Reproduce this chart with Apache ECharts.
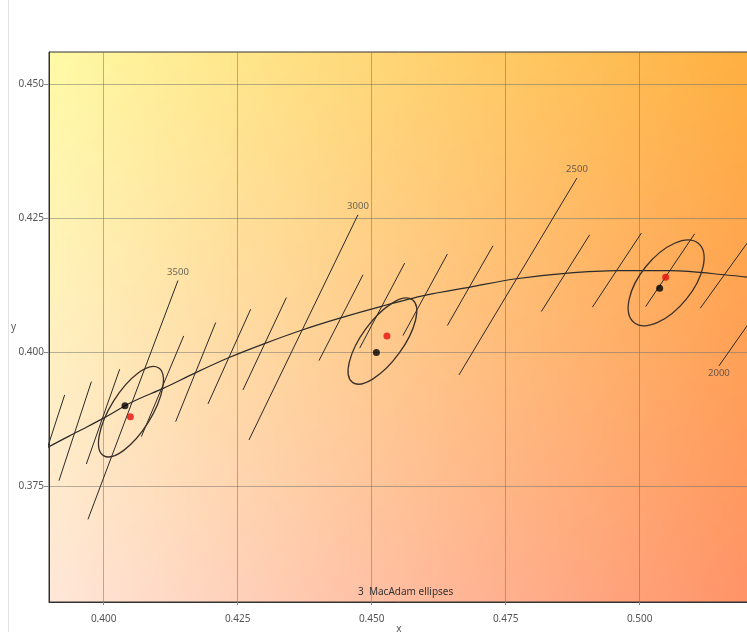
<!DOCTYPE html>
<html>
<head>
<meta charset="utf-8">
<title>3 MacAdam ellipses</title>
<script src="https://cdn.jsdelivr.net/npm/echarts@6/dist/echarts.min.js"></script>
<style>
  html, body { margin: 0; padding: 0; background: #fff; }
  #chart { width: 747px; height: 632px; }
</style>
</head>
<body>
<div id="chart"></div>
<script>
// axis ticks
const xTicks = [0.400, 0.425, 0.450, 0.475, 0.500]
const yTicks = [0.375, 0.400, 0.425, 0.450]
const xMin = 0.3898, xMax = 0.5204
const yMin = 0.3534, yMax = 0.4560

// planckian locus
const locusX = [0.3805, 0.3897, 0.3950, 0.4000, 0.4053, 0.4112, 0.4170, 0.4234, 0.4300, 0.4369,
  0.4442, 0.4520, 0.4599, 0.4686, 0.4770, 0.4861, 0.4959, 0.5059, 0.5162, 0.5267]
const locusY = [0.3768, 0.3823, 0.3851, 0.3877, 0.3907, 0.3933, 0.3961, 0.3990, 0.4016, 0.4041,
  0.4064, 0.4086, 0.4106, 0.4122, 0.4137, 0.4147, 0.4152, 0.4152, 0.4144, 0.4133]

// iso-temperature lines [x1, y1, x2, y2]
const isoLines = [
  [0.38713, 0.37485, 0.39272, 0.39203],
  [0.39166, 0.37603, 0.39771, 0.39451],
  [0.39677, 0.37914, 0.40299, 0.39683],
  [0.39707, 0.36882, 0.41386, 0.41337],
  [0.40703, 0.38424, 0.41493, 0.40304],
  [0.41343, 0.38704, 0.42090, 0.40553],
  [0.41946, 0.39035, 0.42743, 0.40803],
  [0.42599, 0.39296, 0.43409, 0.41019],
  [0.42711, 0.38363, 0.44744, 0.42563],
  [0.44017, 0.39843, 0.44838, 0.41443],
  [0.44776, 0.40075, 0.45616, 0.41662],
  [0.45584, 0.40310, 0.46412, 0.41830],
  [0.46412, 0.40497, 0.47263, 0.41985],
  [0.46629, 0.39576, 0.48830, 0.43249],
  [0.48166, 0.40758, 0.49067, 0.42190],
  [0.49118, 0.40840, 0.50032, 0.42222],
  [0.50112, 0.40851, 0.51026, 0.42209],
  [0.51132, 0.40822, 0.52090, 0.42153],
  [0.51479, 0.39744, 0.52985, 0.41891]
]
const isoNames = ['', '', '', '3500', '', '', '', '', '3000', '', '', '', '', '2500', '', '', '', '', '2000']

// MacAdam ellipses: centre, semi-axes, angle in degrees
const ellipseCx = [0.40509, 0.45201, 0.50494]
const ellipseCy = [0.38891, 0.40207, 0.41294]
const ellipseA = [0.00967, 0.00952, 0.00952]
const ellipseB = [0.00380, 0.00385, 0.00485]
const ellipseAngle = [58, 54, 51]

const blackPoints = [[0.40397, 0.39003], [0.45088, 0.39993], [0.50373, 0.41195]]
const redPoints = [[0.40498, 0.38798], [0.45285, 0.40304], [0.50485, 0.41400]]

const titleText = '3  MacAdam ellipses'

// background fill of the plot area (corner colours blended)
const makeBackground = () => {
  const w = 64, h = 64
  const c = document.createElement('canvas')
  c.width = w
  c.height = h
  const ctx = c.getContext('2d')
  const img = ctx.createImageData(w, h)
  const tl = [255, 250, 166], tr = [255, 176, 66], bl = [255, 231, 216], br = [255, 148, 104]
  for (let y = 0; y < h; y++) {
    for (let x = 0; x < w; x++) {
      const u = x / (w - 1), v = y / (h - 1)
      const k = (y * w + x) * 4
      for (let ch = 0; ch < 3; ch++) {
        const top = tl[ch] + (tr[ch] - tl[ch]) * u
        const bot = bl[ch] + (br[ch] - bl[ch]) * u
        img.data[k + ch] = Math.round(top + (bot - top) * v)
      }
      img.data[k + 3] = 255
    }
  }
  ctx.putImageData(img, 0, 0)
  return c
}

const buildOption = () => {
  const series = []

  series.push({
    name: 'locus',
    type: 'line',
    data: locusX.map((x, i) => [x, locusY[i]]),
    smooth: 0.3,
    symbol: 'none',
    lineStyle: { color: '#2a2a2a', width: 1.2 },
    silent: true,
    z: 3
  })

  isoLines.forEach((seg, i) => {
    series.push({
      name: 'iso' + i,
      type: 'line',
      data: [[seg[0], seg[1]], [seg[2], seg[3]]],
      symbol: 'none',
      lineStyle: { color: '#2a2a2a', width: 1 },
      silent: true,
      z: 3
    })
  })

  const labelData = []
  isoLines.forEach((seg, i) => {
    if (!isoNames[i]) return
    const topInside = seg[2] <= xMax
    labelData.push({
      value: topInside ? [seg[2], seg[3], isoNames[i]] : [seg[0], seg[1], isoNames[i]],
      label: { position: topInside ? 'top' : 'bottom', distance: topInside ? 3 : 2 }
    })
  })
  series.push({
    name: 'labels',
    type: 'scatter',
    data: labelData,
    symbolSize: 1,
    itemStyle: { color: 'rgba(0,0,0,0)' },
    label: {
      show: true,
      formatter: p => p.value[2],
      color: '#444',
      fontSize: 9.5,
      fontFamily: 'Noto Sans'
    },
    silent: true,
    z: 4
  })

  series.push({
    name: 'ellipses',
    type: 'custom',
    data: ellipseCx.map((cx, i) => [cx, ellipseCy[i], ellipseA[i], ellipseB[i], ellipseAngle[i]]),
    renderItem: (params, api) => {
      const c = api.coord([api.value(0), api.value(1)])
      const s = api.size([api.value(2), api.value(3)])
      return {
        type: 'ellipse',
        x: c[0],
        y: c[1],
        rotation: api.value(4) * Math.PI / 180,
        shape: { cx: 0, cy: 0, rx: s[0], ry: s[1] },
        style: { fill: 'none', stroke: '#3b3029', lineWidth: 1.3 }
      }
    },
    silent: true,
    z: 4
  })

  series.push({
    name: 'black',
    type: 'scatter',
    data: blackPoints,
    symbolSize: 7,
    itemStyle: { color: '#000' },
    z: 5
  })
  series.push({
    name: 'red',
    type: 'scatter',
    data: redPoints,
    symbolSize: 7,
    itemStyle: { color: '#e31010' },
    z: 5
  })

  const axisText = { color: '#555', fontSize: 10, fontFamily: 'Noto Sans' }

  return {
    backgroundColor: '#fff',
    animation: false,
    title: {
      text: titleText,
      left: 353,
      top: 582,
      textStyle: { color: '#333', fontSize: 10, fontWeight: 'normal', fontFamily: 'Noto Sans' }
    },
    graphic: [
      { type: 'line', shape: { x1: 8.5, y1: 0, x2: 8.5, y2: 632 }, style: { stroke: '#e2e2e2', lineWidth: 1 }, z: -20 },
      { type: 'image', left: 49, top: 52, z: -10, style: { image: makeBackground(), width: 700, height: 550 } }
    ],
    grid: {
      show: true,
      left: 49,
      top: 52,
      width: 700,
      height: 550,
      outerBoundsMode: 'none',
      containLabel: false,
      borderColor: '#333',
      borderWidth: 1,
      backgroundColor: 'transparent'
    },
    xAxis: {
      type: 'value',
      min: xMin,
      max: xMax,
      name: 'x',
      nameLocation: 'middle',
      nameGap: 22,
      nameMoveOverlap: false,
      nameTextStyle: axisText,
      axisLine: { show: true, lineStyle: { color: '#333' } },
      axisTick: { show: true, length: 3, customValues: xTicks, lineStyle: { color: '#888' } },
      axisLabel: { customValues: xTicks, formatter: v => v.toFixed(3), margin: 12, ...axisText },
      splitLine: { show: true, lineStyle: { color: 'rgba(110,110,110,0.5)', width: 1 } }
    },
    yAxis: {
      type: 'value',
      min: yMin,
      max: yMax,
      name: 'y',
      nameLocation: 'middle',
      nameRotate: 0,
      nameGap: 33,
      nameMoveOverlap: false,
      nameTextStyle: axisText,
      axisLine: { show: true, lineStyle: { color: '#333' } },
      axisTick: { show: true, length: 5, customValues: yTicks, lineStyle: { color: '#888' } },
      axisLabel: { customValues: yTicks, formatter: v => v.toFixed(3), margin: 5, ...axisText },
      splitLine: { show: true, lineStyle: { color: 'rgba(110,110,110,0.5)', width: 1 } }
    },
    series
  }
}

const chart = echarts.init(document.getElementById('chart'), null, { renderer: 'canvas' })
chart.setOption(buildOption())
</script>
</body>
</html>
